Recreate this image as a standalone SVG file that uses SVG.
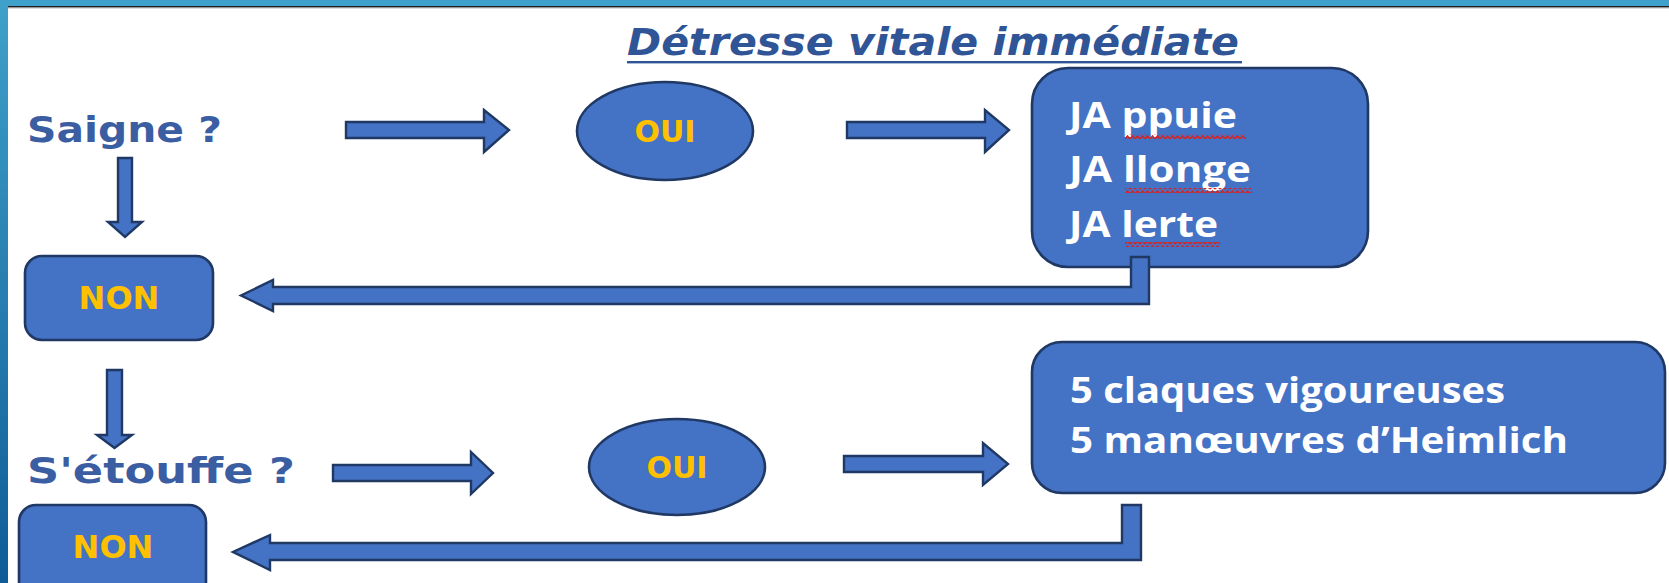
<svg xmlns="http://www.w3.org/2000/svg" width="1669" height="583" viewBox="0 0 1669 583">
<defs>
<linearGradient id="side" x1="0" y1="0" x2="0" y2="1">
<stop offset="0" stop-color="#3fa1c9"/>
<stop offset="1" stop-color="#0f5c97"/>
</linearGradient>
<pattern id="squig" patternUnits="userSpaceOnUse" x="0" y="0" width="5" height="5">
<path d="M0,4 L2.5,1 L5,4" fill="none" stroke="#d42424" stroke-width="1.6"/>
</pattern>
<style>
.box{fill:#4472c4;stroke:#1f3864;stroke-width:2.6}
.arr{fill:#4472c4;stroke:#1f3864;stroke-width:2.4;stroke-linejoin:miter}
.yes{font-family:"DejaVu Sans",sans-serif;font-weight:bold;fill:#ffc000;text-anchor:middle}
.body{font-family:"Open Sans","Liberation Sans",sans-serif;font-weight:700;fill:#ffffff;font-size:35px}
.q{font-family:"DejaVu Sans",sans-serif;font-weight:bold;fill:#3b5ea3;font-size:35px}
</style>
</defs>
<rect x="0" y="0" width="1669" height="583" fill="#ffffff"/>
<rect x="0" y="0" width="1669" height="6" fill="#40a2ca"/>
<rect x="8" y="6" width="1661" height="1.6" fill="#1e1e1e"/>
<rect x="8" y="7.6" width="1661" height="1" fill="#c8c8c8"/>
<rect x="0" y="0" width="8" height="583" fill="url(#side)"/>

<g id="title">
<text x="627" y="55" font-family="DejaVu Sans, sans-serif" font-weight="bold" font-style="oblique" font-size="37" fill="#2f5597" textLength="612" lengthAdjust="spacingAndGlyphs">Détresse vitale immédiate</text>
<rect x="627" y="61" width="615" height="2.4" fill="#2f5597"/>
</g>

<g id="q1">
<text class="q" x="27" y="142" textLength="195" lengthAdjust="spacingAndGlyphs">Saigne ?</text>
</g>
<g id="q2">
<text class="q" x="27" y="483" textLength="268" lengthAdjust="spacingAndGlyphs">S'étouffe ?</text>
</g>

<g id="oui1">
<ellipse class="box" cx="665" cy="131" rx="88" ry="49"/>
<text class="yes" x="665" y="142" font-size="30">OUI</text>
</g>
<g id="oui2">
<ellipse class="box" cx="677" cy="467" rx="88" ry="48"/>
<text class="yes" x="677" y="478" font-size="30">OUI</text>
</g>

<g id="non1">
<rect class="box" x="25" y="256" width="188" height="84" rx="17"/>
<text class="yes" x="119" y="309" font-size="32">NON</text>
</g>
<g id="non2">
<rect class="box" x="19" y="505" width="187" height="95" rx="17"/>
<text class="yes" x="113" y="558" font-size="32">NON</text>
</g>

<g id="action1">
<rect class="box" x="1032" y="68" width="336" height="199" rx="36"/>
<text class="body" x="1069" y="128" textLength="168" lengthAdjust="spacingAndGlyphs">JA ppuie</text>
<text class="body" x="1069" y="182" textLength="182" lengthAdjust="spacingAndGlyphs">JA llonge</text>
<text class="body" x="1069" y="237" textLength="149" lengthAdjust="spacingAndGlyphs">JA lerte</text>
<rect x="1125" y="134" width="121" height="5" fill="url(#squig)"/>
<rect x="1125" y="188" width="127" height="5" fill="url(#squig)"/>
<rect x="1125" y="242" width="95" height="5" fill="url(#squig)"/>
</g>

<g id="action2">
<rect class="box" x="1032" y="342" width="633" height="151" rx="30"/>
<text class="body" x="1070" y="403" textLength="435" lengthAdjust="spacingAndGlyphs">5 claques vigoureuses</text>
<text class="body" x="1070" y="453" textLength="498" lengthAdjust="spacingAndGlyphs">5 manœuvres d’Heimlich</text>
</g>

<g id="connectors">
<polygon class="arr" points="346,122 484,122 484,110 509,130 484,152 484,138 346,138"/>
<polygon class="arr" points="847,122 985,122 985,110 1009,130 985,152 985,138 847,138"/>
<polygon class="arr" points="333,465 471,465 471,452 493,473 471,494 471,481 333,481"/>
<polygon class="arr" points="844,456 983,456 983,443 1008,464 983,485 983,472 844,472"/>
<polygon class="arr" points="118,158 132,158 132,222 142,222 125,237 108,222 118,222"/>
<polygon class="arr" points="107,370 122,370 122,435 132,435 114.5,448 97,435 107,435"/>
<polygon class="arr" points="1131,257 1149,257 1149,304 273,304 273,311 241,295.5 273,280 273,287 1131,287"/>
<polygon class="arr" points="1122,505 1141,505 1141,560 270,560 270,570 233,552 270,535 270,543 1122,543"/>
</g>
</svg>
